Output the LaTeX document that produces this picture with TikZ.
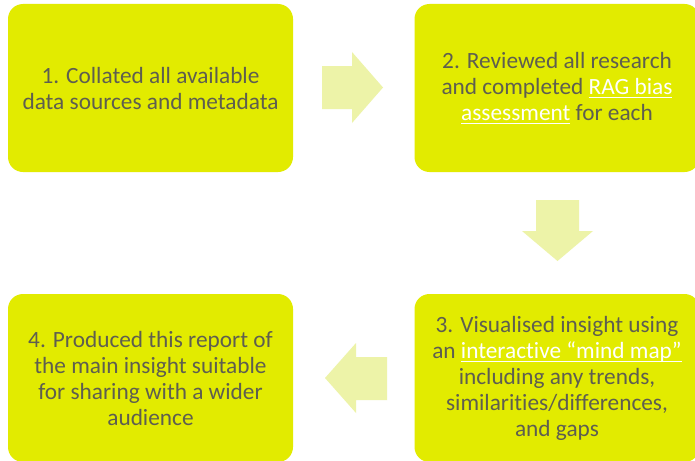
\documentclass[tikz,border=0pt]{standalone}
\usepackage{fontspec}
\setmainfont{Carlito}[Ligatures=NoCommon]
\definecolor{stagefill}{HTML}{E2EB00}
\definecolor{arrowfill}{HTML}{EDF3A8}
\definecolor{stagegrey}{HTML}{5E5E50}
\newcommand{\linktext}[1]{{\color{white}\setbox0\hbox{#1}\rlap{\rule[-4pt]{\wd0}{1.2pt}}\box0}}

\begin{document}
\begin{tikzpicture}[x=1pt,y=-1pt,
  stagebox/.style={fill=stagefill, rounded corners=15pt, inner sep=0pt,
    minimum width=285pt, minimum height=168pt, align=center,
    text=stagegrey, font=\fontsize{23.3}{26}\selectfont},
  flowarrow/.style={fill=arrowfill}]
\clip (0,0) rectangle (695,460);
\fill[white] (0,0) rectangle (695,460);
% the four stages
\node[stagebox] (collate) at (150.5,88) {1. Collated all available\\data sources and metadata};
\node[stagebox] (review) at (557,88) {2. Reviewed all research\\and completed \linktext{RAG bias}\\\linktext{assessment} for each};
\node[stagebox] (visual) at (557,378) {3. Visualised insight using\\an \linktext{interactive “mind map”}\\including any trends,\\similarities/differences,\\and gaps};
\node[stagebox] (report) at (150.5,378) {4. Produced this report of\\the main insight suitable\\for sharing with a wider\\audience};
% block arrows between stages
\fill[flowarrow] (322,66) -- ++(30,0) -- ++(0,-14) -- ++(31,35.5) -- ++(-31,35.5) -- ++(0,-14) -- ++(-30,0) -- cycle;
\fill[flowarrow] (536,200) -- ++(43,0) -- ++(0,31) -- ++(14,0) -- ++(-35.5,30) -- ++(-35.5,-30) -- ++(14,0) -- cycle;
\fill[flowarrow] (387,357) -- ++(-31,0) -- ++(0,-14) -- ++(-31,35) -- ++(31,35) -- ++(0,-13) -- ++(31,0) -- cycle;
\end{tikzpicture}
\end{document}
